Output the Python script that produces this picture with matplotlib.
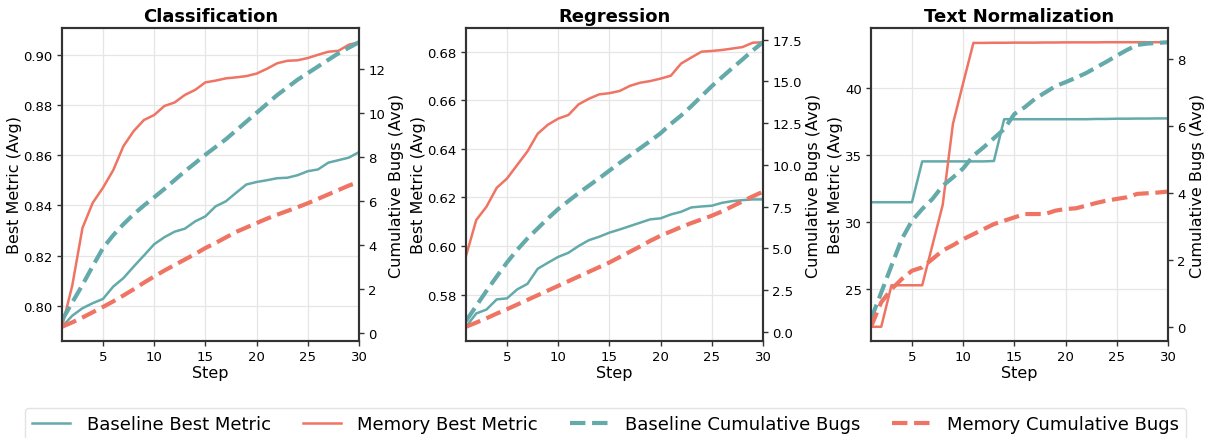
import matplotlib
matplotlib.use("Agg")
import matplotlib.pyplot as plt
from matplotlib.lines import Line2D
import numpy as np

steps = list(range(1, 31))
titles = ["Classification", "Regression", "Text Normalization"]

cls_base_metric = [0.7916, 0.796, 0.799, 0.801, 0.8027, 0.8076, 0.811, 0.8156, 0.820, 0.8245,
                   0.8273, 0.8295, 0.8307, 0.8336, 0.8356, 0.8396, 0.8416, 0.845, 0.8483, 0.8493,
                   0.850, 0.8508, 0.851, 0.852, 0.8536, 0.8543, 0.857, 0.858, 0.859, 0.8612]
cls_mem_metric = [0.7916, 0.808, 0.831, 0.841, 0.847, 0.854, 0.8636, 0.8696, 0.874, 0.876,
                  0.8796, 0.881, 0.884, 0.886, 0.889, 0.8897, 0.8906, 0.891, 0.8915, 0.8925,
                  0.8944, 0.8966, 0.8976, 0.8978, 0.8987, 0.900, 0.9012, 0.9016, 0.904, 0.905]
cls_base_bugs = [0.6, 1.4, 2.2, 3.05, 3.87, 4.45, 4.95, 5.4, 5.8, 6.17,
                 6.55, 6.95, 7.35, 7.72, 8.1, 8.45, 8.8, 9.2, 9.6, 10.0,
                 10.4, 10.8, 11.15, 11.5, 11.8, 12.1, 12.4, 12.7, 12.95, 13.2]
cls_mem_bugs = [0.3, 0.5, 0.72, 0.96, 1.2, 1.45, 1.72, 2.0, 2.3, 2.58,
                2.85, 3.1, 3.35, 3.6, 3.87, 4.1, 4.35, 4.6, 4.8, 5.0,
                5.2, 5.38, 5.55, 5.72, 5.9, 6.1, 6.3, 6.5, 6.7, 6.87]

reg_base_metric = [0.5667, 0.5722, 0.5738, 0.578, 0.5784, 0.5821, 0.5844, 0.5906, 0.5931, 0.5955,
                   0.5972, 0.600, 0.6024, 0.6038, 0.6055, 0.6068, 0.6082, 0.6096, 0.611, 0.6114,
                   0.613, 0.6141, 0.6159, 0.6163, 0.6166, 0.6178, 0.6185, 0.6189, 0.6192, 0.6192]
reg_mem_metric = [0.5959, 0.6107, 0.6162, 0.624, 0.6278, 0.6334, 0.639, 0.6463, 0.650, 0.6525,
                  0.654, 0.6584, 0.6607, 0.6625, 0.663, 0.6639, 0.666, 0.6673, 0.668, 0.669,
                  0.6702, 0.6752, 0.6777, 0.6801, 0.6804, 0.6808, 0.6814, 0.682, 0.6838, 0.6840]
reg_base_bugs = [0.66, 1.56, 2.46, 3.32, 4.16, 4.92, 5.6, 6.2, 6.8, 7.36,
                 7.84, 8.32, 8.76, 9.2, 9.66, 10.12, 10.56, 11.0, 11.44, 11.9,
                 12.46, 12.96, 13.52, 14.12, 14.72, 15.26, 15.8, 16.32, 16.86, 17.35]
reg_mem_bugs = [0.31, 0.56, 0.82, 1.1, 1.36, 1.64, 1.92, 2.2, 2.48, 2.76,
                3.04, 3.32, 3.6, 3.88, 4.16, 4.48, 4.8, 5.12, 5.46, 5.76,
                6.02, 6.28, 6.52, 6.74, 6.96, 7.22, 7.52, 7.82, 8.12, 8.4]

txt_base_metric = [31.5, 31.5, 31.5, 31.5, 31.5, 34.55, 34.55, 34.55, 34.55, 34.55,
                   34.55, 34.55, 34.58, 37.7, 37.7, 37.7, 37.7, 37.7, 37.7, 37.7,
                   37.7, 37.7, 37.72, 37.72, 37.74, 37.74, 37.75, 37.75, 37.76, 37.76]
txt_mem_metric = [22.2, 22.2, 25.3, 25.3, 25.3, 25.3, 28.3, 31.3, 37.35, 40.4,
                  43.4, 43.4, 43.41, 43.41, 43.42, 43.42, 43.42, 43.43, 43.43, 43.44,
                  43.44, 43.44, 43.44, 43.45, 43.45, 43.45, 43.45, 43.45, 43.45, 43.45]
txt_base_bugs = [0.25, 1.04, 1.84, 2.63, 3.18, 3.53, 3.83, 4.22, 4.47, 4.74,
                 5.12, 5.37, 5.64, 5.91, 6.36, 6.56, 6.81, 7.0, 7.19, 7.31,
                 7.44, 7.58, 7.75, 7.92, 8.1, 8.27, 8.42, 8.46, 8.48, 8.5]
txt_mem_bugs = [0.02, 0.75, 1.14, 1.44, 1.69, 1.79, 2.04, 2.29, 2.45, 2.63,
                2.78, 2.93, 3.08, 3.18, 3.28, 3.38, 3.38, 3.38, 3.48, 3.53,
                3.55, 3.63, 3.71, 3.78, 3.83, 3.88, 3.98, 4.0, 4.02, 4.05]

panels = [
    (cls_base_metric, cls_mem_metric, cls_base_bugs, cls_mem_bugs),
    (reg_base_metric, reg_mem_metric, reg_base_bugs, reg_mem_bugs),
    (txt_base_metric, txt_mem_metric, txt_base_bugs, txt_mem_bugs),
]

TEAL = "#64aaaa"
RED = "#ef7463"
W, H = 1211, 439
fig = plt.figure(figsize=(W / 100, H / 100), dpi=100)

lefts = [62, 466, 871]
pw = 297
top, bottom = 29, 342

for i, (bm, mm, bb, mb) in enumerate(panels):
    ax = fig.add_axes([lefts[i] / W, (H - bottom) / H, pw / W, (bottom - top) / H])
    ax2 = ax.twinx()
    ax.plot(steps, bm, color=TEAL, lw=1.8)
    ax.plot(steps, mm, color=RED, lw=1.8)
    ax2.plot(steps, bb, color=TEAL, lw=3, ls="--")
    ax2.plot(steps, mb, color=RED, lw=3, ls="--")
    ax.set_xlim(1, 30)
    ax.set_xticks([5, 10, 15, 20, 25, 30])
    ax.grid(True, color="#e6e6e6", lw=0.9)
    ax.set_axisbelow(True)
    ax.set_title(titles[i], fontsize=13, fontweight="bold", pad=5)
    ax.set_xlabel("Step", fontsize=11.5, labelpad=1)
    ax.set_ylabel("Best Metric (Avg)", fontsize=11.5, labelpad=1)
    ax2.set_ylabel("Cumulative Bugs (Avg)", fontsize=11.5, labelpad=3)
    for a in (ax, ax2):
        a.tick_params(labelsize=9.5, length=3.5, width=1, pad=3.2, color="#333333")
        for s in a.spines.values():
            s.set_color("#333333")
            s.set_linewidth(1.5)

handles = [
    Line2D([], [], color=TEAL, lw=1.8),
    Line2D([], [], color=RED, lw=1.8),
    Line2D([], [], color=TEAL, lw=3, ls="--"),
    Line2D([], [], color=RED, lw=3, ls="--"),
]
labels = ["Baseline Best Metric", "Memory Best Metric",
          "Baseline Cumulative Bugs", "Memory Cumulative Bugs"]
fig.legend(handles, labels, loc="lower center", ncol=4, fontsize=13,
           bbox_to_anchor=(0.5, -0.005), borderaxespad=0.0, frameon=True,
           columnspacing=1.8, handlelength=2.1, handletextpad=0.9,
           edgecolor="#dddddd")

fig.savefig("out.png", dpi=100)
